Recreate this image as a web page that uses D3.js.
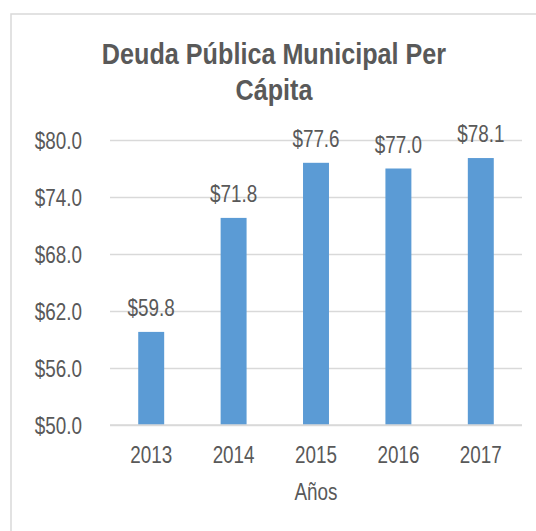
<!DOCTYPE html>
<html>
<head>
  <script src="https://d3js.org/d3.v7.min.js"></script>
  <style>
    body { margin: 0; background: #fff; }
    svg text { font-family: "Liberation Sans", Arial, sans-serif; fill: #595959; }
  </style>
</head>
<body>
<script>
  // chart data
  var years = ["2013", "2014", "2015", "2016", "2017"];
  var deuda = [59.8, 71.8, 77.6, 77.0, 78.1];
  var yTicks = [50, 56, 62, 68, 74, 80];
  var titleLines = ["Deuda Pública Municipal Per", "Cápita"];
  var xTitle = "Años";

  var W = 536, H = 531;
  var sx = 0.82; // text looks horizontally squeezed in the original
  var fs = "23px";

  var svg = d3.select("body").append("svg")
    .attr("width", W)
    .attr("height", H);

  // chart frame (runs off right and bottom edges)
  svg.append("rect")
    .attr("x", 11).attr("y", 14)
    .attr("width", 540).attr("height", 530)
    .attr("fill", "#fff")
    .attr("stroke", "#d9d9d9")
    .attr("stroke-width", 1.5);

  var plotL = 110, plotR = 522, plotT = 140, plotB = 425;

  var x = d3.scaleBand()
    .domain(years)
    .range([plotL, plotR])
    .paddingInner(0.685)
    .paddingOuter(0.3425);

  var y = d3.scaleLinear()
    .domain([50, 80])
    .range([plotB, plotT]);

  // gridlines
  var grid = svg.append("g")
    .attr("transform", "translate(" + plotL + ",0)")
    .call(d3.axisLeft(y).tickValues(yTicks).tickSize(-(plotR - plotL)).tickFormat(""));
  grid.select(".domain").remove();
  grid.selectAll("line").attr("stroke", "#d9d9d9").attr("stroke-width", 1.3);

  // y labels
  var yAxis = svg.append("g")
    .attr("transform", "translate(82,0)")
    .call(d3.axisLeft(y).tickValues(yTicks).tickSize(0).tickPadding(0)
      .tickFormat(function(d) { return "$" + d.toFixed(1); }));
  yAxis.select(".domain").remove();
  yAxis.selectAll("text")
    .attr("x", 0)
    .attr("dy", "0.35em")
    .attr("transform", "scale(" + sx + ",1)")
    .style("font-size", fs)
    .style("fill", "#595959");

  // bars
  svg.selectAll(".bar")
    .data(deuda)
    .enter().append("rect")
      .attr("class", "bar")
      .attr("x", function(d, i) { return x(years[i]); })
      .attr("y", function(d) { return y(d); })
      .attr("width", x.bandwidth())
      .attr("height", function(d) { return plotB - y(d); })
      .attr("fill", "#5b9bd5");

  // bar labels
  svg.selectAll(".lbl")
    .data(deuda)
    .enter().append("text")
      .attr("class", "lbl")
      .attr("text-anchor", "middle")
      .attr("transform", function(d, i) {
        return "translate(" + (x(years[i]) + x.bandwidth() / 2) + "," + (y(d) - 16) + ") scale(" + sx + ",1)";
      })
      .style("font-size", fs)
      .text(function(d) { return "$" + d.toFixed(1); });

  // x axis line
  svg.append("line")
    .attr("x1", plotL).attr("x2", plotR)
    .attr("y1", plotB).attr("y2", plotB)
    .attr("stroke", "#d9d9d9")
    .attr("stroke-width", 1.3);

  // year labels
  svg.selectAll(".yr")
    .data(years)
    .enter().append("text")
      .attr("class", "yr")
      .attr("text-anchor", "middle")
      .attr("transform", function(d) {
        return "translate(" + (x(d) + x.bandwidth() / 2) + ",463) scale(" + sx + ",1)";
      })
      .style("font-size", fs)
      .text(function(d) { return d; });

  // axis title
  svg.append("text")
    .attr("text-anchor", "middle")
    .attr("transform", "translate(" + ((plotL + plotR) / 2) + ",500) scale(" + sx + ",1)")
    .style("font-size", fs)
    .text(xTitle);

  // title
  svg.selectAll(".title")
    .data(titleLines)
    .enter().append("text")
      .attr("class", "title")
      .attr("text-anchor", "middle")
      .attr("transform", function(d, i) {
        return "translate(274," + (64 + i * 36) + ") scale(0.84,1)";
      })
      .style("font-size", "30px")
      .style("font-weight", "bold")
      .text(function(d) { return d; });
</script>
</body>
</html>
